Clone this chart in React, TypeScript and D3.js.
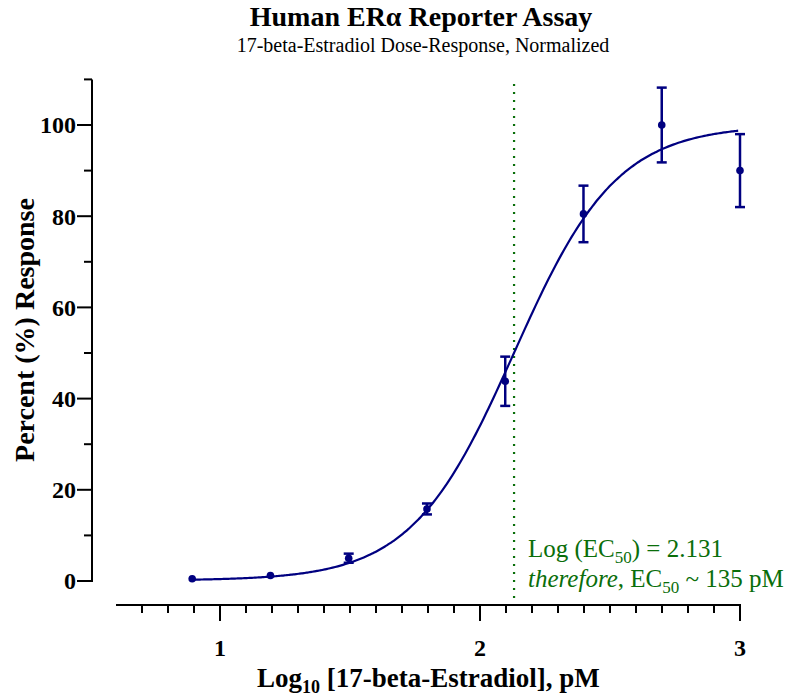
import React from "react";
import * as d3 from "d3";

const logDose = [0.893, 1.194, 1.495, 1.796, 2.097, 2.398, 2.699, 3.0];
const response = [0.5, 1.2, 5.0, 15.8, 43.8, 80.5, 100.0, 90.0];
const errorSD = [0.2, 0.3, 1.0, 1.2, 5.4, 6.2, 8.2, 8.0];

const fitBottom = 0.1;
const fitTop = 100.0;
const logEC50 = 2.131;
const hillSlope = 2.2;

const xTickValues = [1, 2, 3];
const yTickValues = [0, 20, 40, 60, 80, 100];

const NAVY = "#000080";
const GREEN = "#0a6e0a";
const FONT = "'Liberation Serif', 'Times New Roman', serif";

export default function App() {
  const W = 794, H = 696;
  const x = d3.scaleLinear().domain([0.6, 3]).range([116, 740]);
  const y = d3.scaleLinear().domain([0, 110]).range([581, 79.4]);
  const axisX = 92;
  const axisY = 605;
  const R = 3.8;

  const fit = (v: number) => fitBottom + (fitTop - fitBottom) / (1 + Math.pow(10, (logEC50 - v) * hillSlope));
  const curveXs = d3.range(logDose[0], 3.0001, 0.01);
  const line = d3.line<number>().x((d) => x(d)).y((d) => y(fit(d))).curve(d3.curveMonotoneX);

  const xMinor = d3.range(0.7, 3.001, 0.1).filter((v) => Math.abs(v - Math.round(v)) > 0.01);
  const yMinor = d3.range(10, 111, 20);

  return (
    <svg width={W} height={H} style={{ position: "absolute", left: 0, top: 0, background: "#fff" }} fontFamily={FONT}>
      <text x={421} y={26} textAnchor="middle" fontSize={28} fontWeight="bold">Human ERα Reporter Assay</text>
      <text x={423} y={52} textAnchor="middle" fontSize={20}>17-beta-Estradiol Dose-Response, Normalized</text>

      {/* Y axis */}
      <line x1={axisX} x2={axisX} y1={y(110)} y2={y(0) + 1} stroke="#000" strokeWidth={2} />
      {yTickValues.map((t) => (
        <g key={"yt" + t}>
          <line x1={axisX - 15} x2={axisX} y1={y(t)} y2={y(t)} stroke="#000" strokeWidth={2} />
          <text x={axisX - 16} y={y(t)} dy="0.35em" textAnchor="end" fontSize={24} fontWeight="bold">{t}</text>
        </g>
      ))}
      {yMinor.map((t) => (
        <line key={"ym" + t} x1={axisX - 8} x2={axisX} y1={y(t)} y2={y(t)} stroke="#000" strokeWidth={2} />
      ))}
      <text transform={`translate(34,${330}) rotate(-90)`} textAnchor="middle" fontSize={28} fontWeight="bold">Percent (%) Response</text>

      {/* X axis */}
      <line x1={x(0.6)} x2={x(3) + 1} y1={axisY} y2={axisY} stroke="#000" strokeWidth={2} />
      {xTickValues.map((t) => (
        <g key={"xt" + t}>
          <line x1={x(t)} x2={x(t)} y1={axisY} y2={axisY + 16} stroke="#000" strokeWidth={2} />
          <text x={x(t)} y={656} textAnchor="middle" fontSize={24} fontWeight="bold">{t}</text>
        </g>
      ))}
      {xMinor.map((t, i) => (
        <line key={"xm" + i} x1={x(t)} x2={x(t)} y1={axisY} y2={axisY + 8} stroke="#000" strokeWidth={2} />
      ))}
      <text x={257} y={687} textAnchor="start" fontSize={27} fontWeight="bold">
        Log<tspan fontSize={18} dy={6}>10</tspan><tspan dy={-6}> [17-beta-Estradiol], pM</tspan>
      </text>

      {/* EC50 line */}
      <line x1={x(logEC50)} x2={x(logEC50)} y1={y(109)} y2={axisY - 3} stroke={GREEN} strokeWidth={2.2} strokeDasharray="2,6" />
      <text x={528} y={557} fontSize={25} fill={GREEN}>
        Log (EC<tspan fontSize={17} dy={6}>50</tspan><tspan dy={-6}>) = 2.131</tspan>
      </text>
      <text x={528} y={587} fontSize={25} fill={GREEN}>
        <tspan fontStyle="italic">therefore</tspan>, EC<tspan fontSize={17} dy={6}>50</tspan><tspan dy={-6}> ~ 135 pM</tspan>
      </text>

      {/* Fit curve */}
      <path d={line(curveXs) || ""} fill="none" stroke={NAVY} strokeWidth={2.2} />

      {/* Error bars and points */}
      {logDose.map((d, i) => {
        const cx = x(d);
        const top = y(response[i] + errorSD[i]);
        const bot = y(response[i] - errorSD[i]);
        const showBar = Math.abs(bot - top) / 2 > R;
        return (
          <g key={"p" + i}>
            {showBar && (
              <g>
                <line x1={cx} x2={cx} y1={top} y2={bot} stroke={NAVY} strokeWidth={2.5} />
                <line x1={cx - 5} x2={cx + 5} y1={top} y2={top} stroke={NAVY} strokeWidth={2.5} />
                <line x1={cx - 5} x2={cx + 5} y1={bot} y2={bot} stroke={NAVY} strokeWidth={2.5} />
              </g>
            )}
            <circle cx={cx} cy={y(response[i])} r={R} fill={NAVY} />
          </g>
        );
      })}
    </svg>
  );
}
